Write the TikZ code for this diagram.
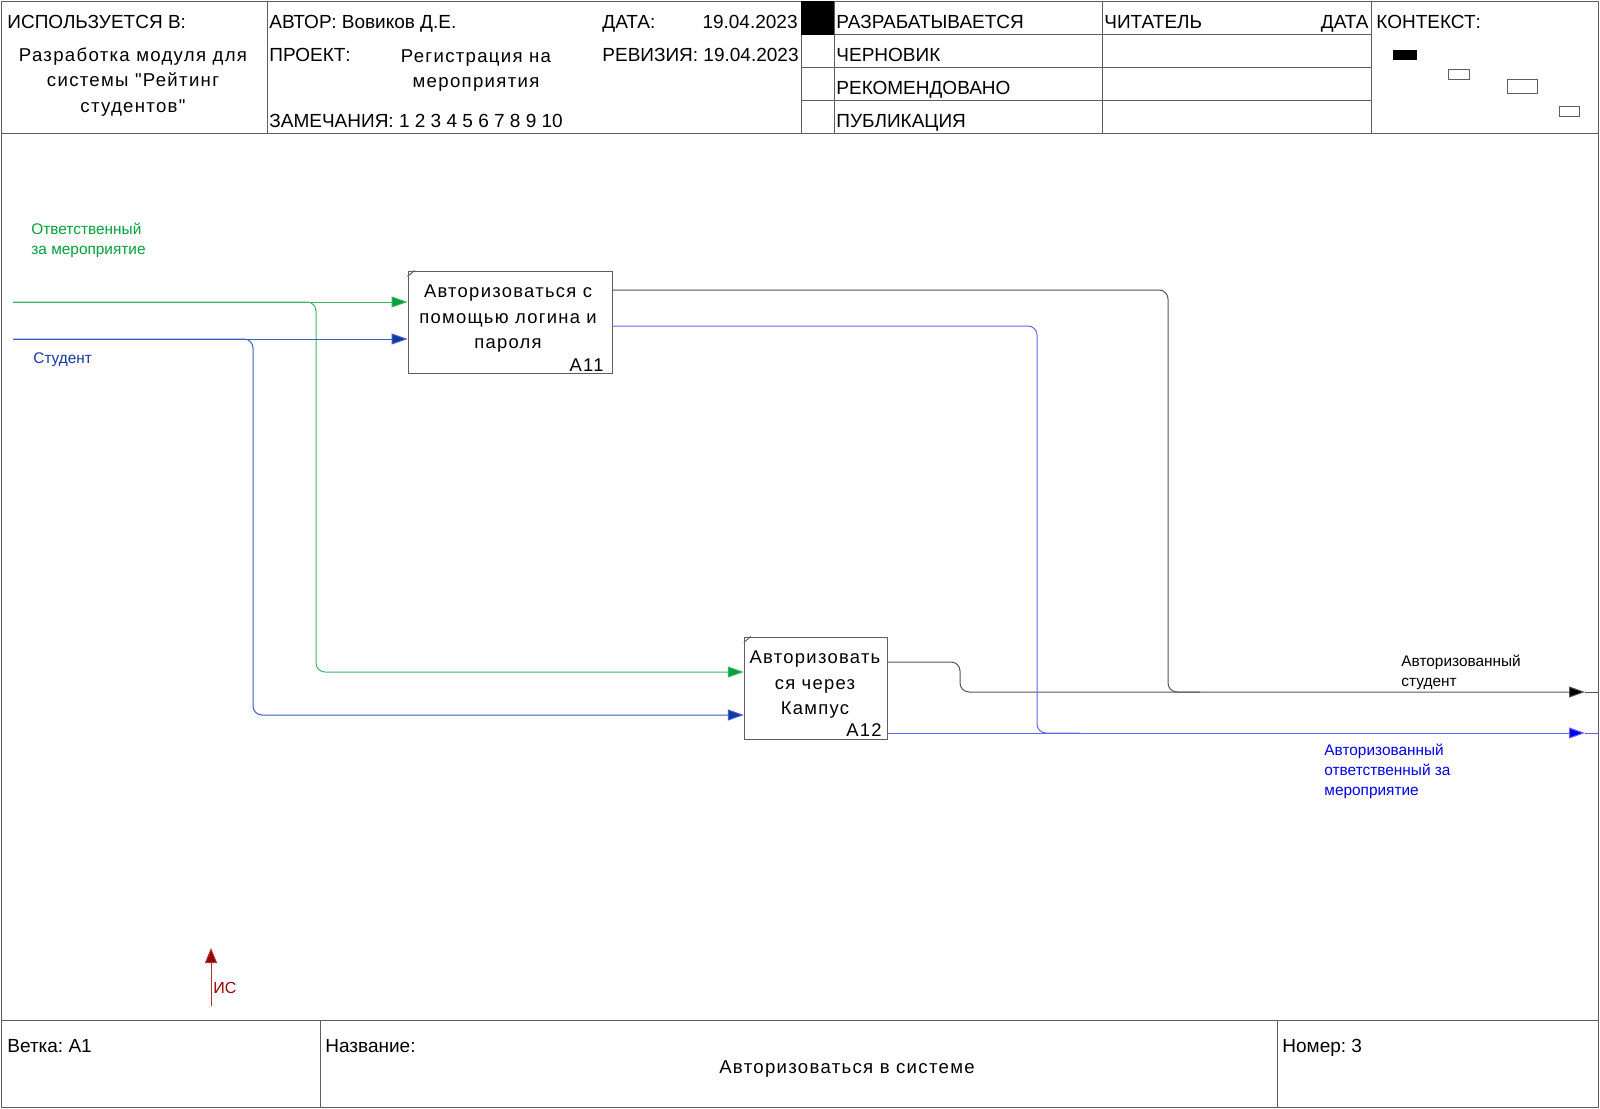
\documentclass[tikz,border=0pt]{standalone}
\usepackage{fontspec}
\setmainfont{Liberation Sans}
\newfontfamily\spaced[LetterSpace=7]{Liberation Sans}
\usetikzlibrary{arrows.meta}
\frenchspacing
\definecolor{fr}{RGB}{95,95,95}
\definecolor{grn}{RGB}{0,160,60}
\definecolor{grnl}{RGB}{60,180,100}
\definecolor{dblue}{RGB}{20,55,160}
\definecolor{dbluel}{RGB}{60,95,195}
\definecolor{obl}{RGB}{0,0,235}
\definecolor{obll}{RGB}{100,100,245}
\definecolor{blk}{RGB}{85,85,85}
\definecolor{dred}{RGB}{150,0,0}
\tikzset{
  frame/.style={draw=fr, line width=0.5pt},
  hl/.style={inner sep=0pt, font=\frenchspacing\fontsize{9.5}{11}\selectfont},
  ht/.style={inner sep=0pt, align=center, font=\spaced\fontsize{9.3}{12.75}\selectfont},
  boxtxt/.style={inner sep=0pt, align=center, font=\spaced\fontsize{9.2}{12.75}\selectfont},
  fbox/.style={draw=fr, line width=0.5pt, inner sep=0pt},
  albl/.style={inner sep=0pt, align=left, font=\fontsize{7.7}{10}\selectfont},
  gline/.style={draw=grnl, line width=0.5pt},
  bline/.style={draw=dbluel, line width=0.5pt},
  oline/.style={draw=obll, line width=0.5pt},
  kline/.style={draw=blk, line width=0.5pt},
}
\begin{document}
\begin{tikzpicture}[x=0.5pt,y=-0.5pt]
\useasboundingbox (0,0) rectangle (1600,1108);
\fill[white] (0,0) rectangle (1600,1108);
% outer frame and title block
\draw[frame] (1,1) rectangle (1598,1107);
\draw[frame] (1,133.5) -- (1598,133.5);
\foreach \x in {267,801,834,1102,1371} \draw[frame] (\x,1) -- (\x,133.5);
\foreach \y in {34.7,67.3,100} \draw[frame] (801,\y) -- (1371,\y);
\fill[black] (801,1) rectangle (834,34.7);
\draw[frame] (1,1020) -- (1598,1020);
\draw[frame] (320,1020) -- (320,1107);
\draw[frame] (1277,1020) -- (1277,1107);
% context thumbnails
\fill[black] (1393,50) rectangle (1417,60);
\draw[frame] (1448,69) rectangle (1469,79);
\draw[frame] (1507,79) rectangle (1537,93);
\draw[frame] (1559,106) rectangle (1579,116);
% header texts
\node[hl, anchor=base west] (usedin) at (7,28.5) {ИСПОЛЬЗУЕТСЯ В:};
\node[ht] (usedname) at (133,82) {Разработка модуля для\\системы \symbol{34}Рейтинг\\студентов\symbol{34}};
\node[hl, anchor=base west] (author) at (269,28.5) {АВТОР: Вовиков Д.Е.};
\node[hl, anchor=base west] (projlbl) at (269,61.5) {ПРОЕКТ:};
\node[ht] (projname) at (476,70.5) {Регистрация на\\мероприятия};
\node[hl, anchor=base west] (notes) at (269,127.5) {ЗАМЕЧАНИЯ: 1 2 3 4 5 6 7 8 9 10};
\node[hl, anchor=base west] (datelbl) at (602,28.5) {ДАТА:};
\node[hl, anchor=base east] (dateval) at (798,28.5) {19.04.2023};
\node[hl, anchor=base west] (rev) at (602,61.5) {РЕВИЗИЯ: 19.04.2023};
\node[hl, anchor=base west] (st1) at (836,28.5) {РАЗРАБАТЫВАЕТСЯ};
\node[hl, anchor=base west] (st2) at (836,61.5) {ЧЕРНОВИК};
\node[hl, anchor=base west] (st3) at (836,94.5) {РЕКОМЕНДОВАНО};
\node[hl, anchor=base west] (st4) at (836,127.5) {ПУБЛИКАЦИЯ};
\node[hl, anchor=base west] (reader) at (1104,28.5) {ЧИТАТЕЛЬ};
\node[hl, anchor=base east] (rdate) at (1369,28.5) {ДАТА};
\node[hl, anchor=base west] (ctx) at (1376,28.5) {КОНТЕКСТ:};
% footer texts
\node[hl, anchor=base west] (branch) at (7,1052) {Ветка: А1};
\node[hl, anchor=base west] (namelbl) at (325,1052) {Название:};
\node[inner sep=0pt, font=\spaced\fontsize{9.3}{11}\selectfont, anchor=base] (nameval) at (847,1073) {Авторизоваться в системе};
\node[hl, anchor=base west] (number) at (1282,1052) {Номер: 3};
% activity boxes
\node[fbox, minimum width=102pt, minimum height=51.25pt] (a11) at (510,322.25) {};
\node[fbox, minimum width=71.5pt, minimum height=51pt] (a12) at (815.75,688) {};
\draw[frame] ([yshift=-3pt]a11.north west) -- ([xshift=3.5pt]a11.north west);
\draw[frame] ([yshift=-3pt]a12.north west) -- ([xshift=3.5pt]a12.north west);
\node[boxtxt] (a11t) at (508,319) {Авторизоваться с\\помощью логина и\\пароля};
\node[boxtxt, anchor=base east] (a11n) at (604,371) {А11};
\node[boxtxt] (a12t) at (815,685) {Авторизовать\\ся через\\Кампус};
\node[boxtxt, anchor=base east] (a12n) at (882,736) {А12};
% free ends
\coordinate (g0) at (13,302);
\coordinate (b0) at (13,339);
\coordinate (o1) at (1585,692);
\coordinate (o2) at (1585,733);
\coordinate (e1) at (1598,692);
\coordinate (e2) at (1598,733);
% inputs
\draw[gline, -{Triangle[length=8pt,width=5.5pt,fill=grn]}, rounded corners=4.5pt] (g0) -- (316,302) -- (316,672) -- (a12.west |- 0,672);
\draw[gline, -{Triangle[length=8pt,width=5.5pt,fill=grn]}] (g0) -- (a11.west |- g0);
\draw[bline, -{Triangle[length=8pt,width=5.5pt,fill=dblue]}, rounded corners=4.5pt] (b0) -- (253,339) -- (253,715) -- (a12.west |- 0,715);
\draw[bline, -{Triangle[length=8pt,width=5.5pt,fill=dblue]}] (b0) -- (a11.west |- b0);
% outputs
\draw[kline, rounded corners=4.5pt] (a11.east |- 0,290) -- (1168,290) -- (1168,692) -- (1200,692);
\draw[kline, rounded corners=4.5pt, -{Triangle[length=8pt,width=5.5pt,fill=black]}] (a12.east |- 0,662) -- (960,662) -- (960,692) -- (o1);
\draw[kline] (o1) -- (e1);
\draw[oline, rounded corners=4.5pt] (a11.east |- 0,326) -- (1037,326) -- (1037,733) -- (1080,733);
\draw[oline, -{Triangle[length=8pt,width=5.5pt,fill=obl]}] (a12.east |- 0,733) -- (o2);
\draw[oline] (o2) -- (e2);
% labels
\node[albl, text=grn, anchor=west] (lresp) at (31,240) {Ответственный\\за мероприятие};
\node[albl, text=dblue, anchor=west] (lstud) at (33,360) {Студент};
\node[albl, text=black, anchor=west] (lauth) at (1401,672) {Авторизованный\\студент};
\node[albl, text=obl, anchor=west] (lauthr) at (1324,771) {Авторизованный\\ответственный за\\мероприятие};
% IS arrow
\coordinate (is0) at (211,1006);
\coordinate (is1) at (211,948);
\draw[draw=dred!80, line width=0.5pt, -{Triangle[length=7.5pt,width=6pt,fill=dred]}] (is0) -- (is1);
\node[inner sep=0pt, anchor=base west, text=dred, font=\fontsize{8}{10}\selectfont] (isl) at (213,993) {ИС};
\end{tikzpicture}
\end{document}
